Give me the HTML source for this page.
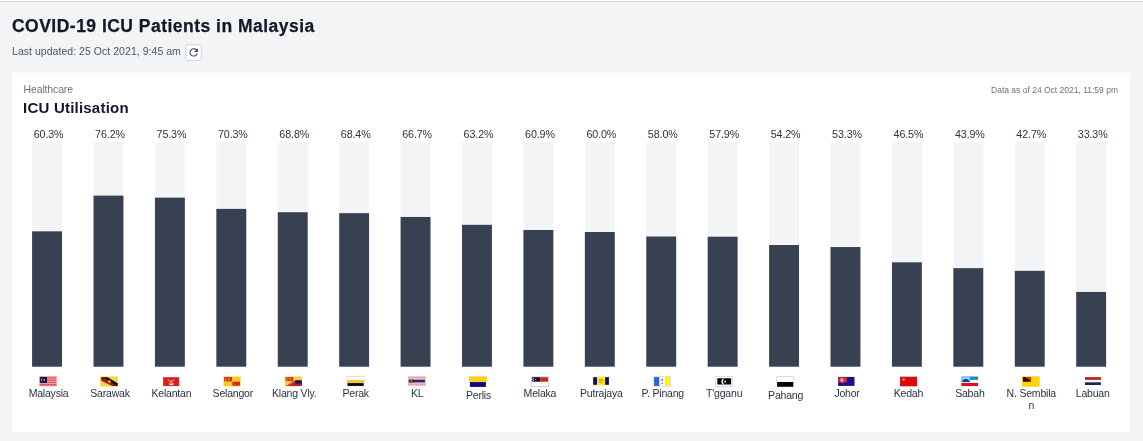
<!DOCTYPE html>
<html><head><meta charset="utf-8"><title>COVID-19 ICU Patients in Malaysia</title>
<style>
html,body{margin:0;padding:0}
body{width:1143px;height:441px;overflow:hidden;background:#f3f4f6;position:relative;font-family:"Liberation Sans",sans-serif;color:#1f2937}
.bg{position:absolute;left:0;top:0;display:block}
h1{position:absolute;left:12px;top:15px;margin:0;font-size:17.5px;line-height:22px;font-weight:700;color:#111827;white-space:nowrap;letter-spacing:0.48px;-webkit-text-stroke:0.25px #111827}
.upd{position:absolute;left:12px;top:44px;font-size:10.5px;line-height:14px;color:#4b5563;white-space:nowrap;letter-spacing:0.04px}
.cat{position:absolute;left:23.6px;top:82px;font-size:10.5px;line-height:14px;color:#6b7280;white-space:nowrap;letter-spacing:-0.15px}
.ttl{position:absolute;left:23px;top:99px;font-size:15px;line-height:18px;font-weight:700;color:#111827;white-space:nowrap;letter-spacing:0.22px}
.asof{position:absolute;right:25px;top:84px;font-size:8.5px;line-height:12px;color:#6b7280;white-space:nowrap}
.pct{position:absolute;top:127px;width:60px;text-align:center;font-size:10.7px;line-height:14px;color:#2b3340;letter-spacing:-0.1px}
.name{position:absolute;width:50.4px;text-align:center;font-size:10.5px;line-height:12px;color:#2b3340;word-break:break-all;letter-spacing:-0.2px}
</style></head><body>
<svg class="bg" width="1143" height="441" viewBox="0 0 1143 441">
<rect x="0" y="0" width="1143" height="1" fill="#fff"/><rect x="0" y="1" width="1143" height="1" fill="#d4d4d4"/>
<rect x="11.9" y="72.6" width="1118.2" height="359.4" fill="#fff"/>
<rect x="185.9" y="44.9" width="15.4" height="15.4" rx="1.8" fill="#fff" stroke="#d1d5db" stroke-width="1"/>
<g transform="translate(187.4 46.1) scale(0.525)"><path d="M17.65 6.35C16.2 4.9 14.21 4 12 4c-4.42 0-7.99 3.58-7.99 8s3.57 8 7.99 8c3.73 0 6.84-2.55 7.73-6h-2.08c-.82 2.33-3.04 4-5.65 4-3.31 0-6-2.69-6-6s2.69-6 6-6c1.66 0 3.14.69 4.22 1.78L13 11h7V4l-2.35 2.35z" fill="#374151"/></g>
<rect x="32.10" y="142.2" width="29.9" height="224.50" fill="#f3f4f6"/><rect x="32.10" y="231.33" width="29.9" height="135.37" fill="#374151"/>
<g transform="translate(39.5 376.6)"><rect width="17" height="9.7" fill="#f4a0a4"/>
<g fill="#e0555c"><rect y="0" width="17" height="0.9"/><rect y="1.8" width="17" height="0.9"/><rect y="3.6" width="17" height="0.9"/><rect y="5.4" width="17" height="0.9"/><rect y="7.3" width="17" height="1.6"/></g>
<rect x="0.4" y="0.5" width="7.1" height="5.7" fill="#0c0c3e"/>
<path d="M3.6 1.7a1.7 1.7 0 1 0 0 3.2a1.45 1.45 0 1 1 0-3.2z" fill="#e8e4d0"/><circle cx="4.7" cy="3.3" r="0.8" fill="#f4f0e0"/></g>
<rect x="93.52" y="142.2" width="29.9" height="224.50" fill="#f3f4f6"/><rect x="93.52" y="195.63" width="29.9" height="171.07" fill="#374151"/>
<g transform="translate(100.4 376.4)"><rect width="17.3" height="10.1" fill="#f7d838"/>
<path d="M0.8 0.8H7.2L17.3 6.8V9.6H12.4L0.8 2.6z" fill="#111"/>
<path d="M0.8 2.4L4.6 2.2L16.2 9.4H11.4L0.8 4.4z" fill="#b0141e"/>
<circle cx="9" cy="5.3" r="1.35" fill="#f7b23a"/></g>
<rect x="154.94" y="142.2" width="29.9" height="224.50" fill="#f3f4f6"/><rect x="154.94" y="197.65" width="29.9" height="169.05" fill="#374151"/>
<g transform="translate(163.1 377.2)"><rect width="16" height="8.8" fill="#d9201c"/>
<path d="M5.1 2.2L7.7 5.4M11.1 2.2L8.7 5.4M8.2 2.6V5.4" stroke="#f4a49c" stroke-width="1" fill="none"/>
<path d="M6.3 4.9A2 2 0 0 0 10.1 4.9" stroke="#fde4e0" stroke-width="1.5" fill="none" transform="translate(0 1.1)"/></g>
<rect x="216.35" y="142.2" width="29.9" height="224.50" fill="#f3f4f6"/><rect x="216.35" y="208.88" width="29.9" height="157.82" fill="#374151"/>
<g transform="translate(223.5 376.5)"><rect width="17" height="9.8" fill="#f9c823"/>
<rect x="0.6" y="0.6" width="8" height="4.3" fill="#c23a14"/><rect x="8.9" y="5.2" width="7.6" height="4" fill="#d8281a"/>
<path d="M3.6 1.4a1.5 1.5 0 1 0 0 2.8a1.2 1.2 0 1 1 0-2.8z" fill="#f4a088"/><circle cx="5.3" cy="2.8" r="1" fill="#f47a6a"/></g>
<rect x="277.77" y="142.2" width="29.9" height="224.50" fill="#f3f4f6"/><rect x="277.77" y="212.24" width="29.9" height="154.46" fill="#374151"/>
<g transform="translate(284.8 376.5)"><rect width="17.2" height="9.8" fill="#f6d23a"/>
<path d="M1 9.6L9 4.6H17.2V9.6z" fill="#c8202c"/>
<path d="M1 9.6L9.4 4.4L9.4 6L3.6 9.6z" fill="#e0541c"/>
<rect x="0.7" y="0.7" width="7.8" height="3.9" fill="#c83c14"/>
<rect x="10.4" y="3.7" width="6.4" height="3.4" fill="#1c1058"/>
<rect x="10" y="7" width="7" height="1" fill="#8c1848" opacity="0.6"/>
<path d="M3.5 1.4a1.4 1.4 0 1 0 0 2.6a1.1 1.1 0 1 1 0-2.6z" fill="#f4a088"/><circle cx="5.2" cy="2.7" r="0.9" fill="#f47a6a"/></g>
<rect x="339.19" y="142.2" width="29.9" height="224.50" fill="#f3f4f6"/><rect x="339.19" y="213.14" width="29.9" height="153.56" fill="#374151"/>
<g transform="translate(346.7 376.3)"><rect width="17.8" height="10.1" fill="#d6d6dc"/>
<rect x="0.7" y="0.7" width="16.4" height="3" fill="#fff"/><rect x="0.4" y="3.6" width="17" height="3.2" fill="#f2c93a"/><rect x="0.9" y="6.8" width="16" height="2.8" fill="#0c0804"/></g>
<rect x="400.61" y="142.2" width="29.9" height="224.50" fill="#f3f4f6"/><rect x="400.61" y="216.96" width="29.9" height="149.74" fill="#374151"/>
<g transform="translate(407.9 376.3)"><rect width="17.8" height="9.5" fill="#efb6bc"/>
<rect x="0" y="0.6" width="17.8" height="0.8" fill="#e8a0a8"/><rect x="0" y="7.8" width="17.8" height="0.8" fill="#e8a0a8"/>
<rect x="1" y="3.5" width="16" height="2.5" fill="#1b2b73"/><rect x="1" y="3.5" width="5" height="2.5" fill="#14183c"/><rect x="2.6" y="3.9" width="2" height="1.6" fill="#8c84a8"/></g>
<rect x="462.02" y="142.2" width="29.9" height="224.50" fill="#f3f4f6"/><rect x="462.02" y="224.82" width="29.9" height="141.88" fill="#374151"/>
<g transform="translate(469.1 376.3)"><rect width="17.6" height="5.8" fill="#fbd01c"/><rect x="0.8" y="5.8" width="16" height="4.8" fill="#0b0b7a"/></g>
<rect x="523.44" y="142.2" width="29.9" height="224.50" fill="#f3f4f6"/><rect x="523.44" y="229.98" width="29.9" height="136.72" fill="#374151"/>
<g transform="translate(531.3 376.5)"><rect width="17.4" height="10.2" fill="#c4c4c8"/><rect x="0.7" y="0.7" width="16" height="8.8" fill="#fff"/>
<rect x="0.7" y="0.7" width="8.2" height="4.5" fill="#140c3c"/><rect x="8.9" y="0.7" width="7.8" height="4.5" fill="#c42c1c"/>
<path d="M3.2 1.7a1.5 1.5 0 1 0 0 2.6a1.1 1.1 0 1 1 0-2.6z" fill="#e8e4f0"/><circle cx="4.4" cy="3" r="0.6" fill="#c8c4dc"/></g>
<rect x="584.86" y="142.2" width="29.9" height="224.50" fill="#f3f4f6"/><rect x="584.86" y="232.00" width="29.9" height="134.70" fill="#374151"/>
<g transform="translate(592.7 376.7)"><rect width="16.6" height="8.6" fill="#fbe83a"/>
<rect x="0.5" y="0.5" width="3.8" height="7.6" fill="#0c0c74"/><rect x="12.4" y="0.5" width="3.8" height="7.6" fill="#0c0c74"/>
<circle cx="8.3" cy="4.4" r="2.6" fill="#e8c41c"/><path d="M6.4 3.4L7.4 2.6L8.3 3.6L9.2 2.6L10.2 3.4" stroke="#b89410" stroke-width="0.7" fill="none"/></g>
<rect x="646.28" y="142.2" width="29.9" height="224.50" fill="#f3f4f6"/><rect x="646.28" y="236.49" width="29.9" height="130.21" fill="#374151"/>
<g transform="translate(653.5 376.3)"><rect width="17.2" height="10.2" fill="#c8ccd0"/><rect x="0.6" y="0.6" width="16" height="9" fill="#fff"/>
<rect x="0.6" y="0.8" width="5.2" height="8.8" fill="#2e63c4"/><rect x="11.3" y="0.6" width="5.4" height="9" fill="#fdf21a"/>
<rect x="7.8" y="2.6" width="1.6" height="1.6" fill="#5c6c5c"/><rect x="8.3" y="4.2" width="0.7" height="2.6" fill="#9c9c94"/><rect x="7.6" y="6.8" width="2.2" height="0.8" fill="#7c8c84"/></g>
<rect x="707.69" y="142.2" width="29.9" height="224.50" fill="#f3f4f6"/><rect x="707.69" y="236.71" width="29.9" height="129.99" fill="#374151"/>
<g transform="translate(715.3 376.3)"><rect width="17.4" height="10.4" fill="#cfcfd3"/><rect x="0.7" y="0.7" width="16" height="9" fill="#fff"/>
<rect x="2" y="2" width="13.8" height="6.2" rx="0.4" fill="#050505"/>
<path d="M9 2.3A2.9 2.9 0 0 0 9 8.1A3.7 3.7 0 0 1 9 2.3z" fill="#f4f4f4"/><circle cx="9.9" cy="5.2" r="1" fill="#ececec"/></g>
<rect x="769.11" y="142.2" width="29.9" height="224.50" fill="#f3f4f6"/><rect x="769.11" y="245.02" width="29.9" height="121.68" fill="#374151"/>
<g transform="translate(776.3 376.3)"><rect width="17.6" height="6" fill="#d0d0d4"/><rect x="0.7" y="0.7" width="16.2" height="5.2" fill="#fff"/><rect x="0.8" y="5.7" width="16.2" height="4.8" fill="#060606"/></g>
<rect x="830.53" y="142.2" width="29.9" height="224.50" fill="#f3f4f6"/><rect x="830.53" y="247.04" width="29.9" height="119.66" fill="#374151"/>
<g transform="translate(838.1 376.9)"><rect width="16.4" height="9" fill="#14128c"/>
<rect x="0.3" y="0.3" width="8.4" height="5.6" fill="#d82838"/><rect x="0.3" y="4.6" width="8.4" height="1.6" fill="#7a1c68" opacity="0.7"/>
<path d="M5.3 1.2a2.2 2.2 0 1 0 0 4a2.6 2.6 0 0 1 0-4z" fill="#f8b0b4"/><circle cx="5.7" cy="3.4" r="0.8" fill="#f88c94"/></g>
<rect x="891.95" y="142.2" width="29.9" height="224.50" fill="#f3f4f6"/><rect x="891.95" y="262.31" width="29.9" height="104.39" fill="#374151"/>
<g transform="translate(900.5 377.1)"><rect width="16.2" height="8.8" fill="#e00808"/><rect width="16.2" height="8.8" fill="none" stroke="#b80808" stroke-width="0.8"/>
<circle cx="3.1" cy="2.5" r="1.3" fill="#f87858"/></g>
<rect x="953.36" y="142.2" width="29.9" height="224.50" fill="#f3f4f6"/><rect x="953.36" y="268.14" width="29.9" height="98.56" fill="#374151"/>
<g transform="translate(961.3 376.5)"><rect width="16.8" height="9.6" fill="#fff"/>
<rect x="0" y="0" width="16.8" height="3.4" fill="#1a8cc4"/><rect x="0" y="6.4" width="16.8" height="3.2" fill="#d8141c"/>
<rect x="0" y="0" width="8.6" height="5.8" fill="#86d4f4"/>
<path d="M0.8 4.6C2 3 3.6 2.4 4.6 2.6C5.8 2.4 7 3.4 8.4 4.6V5.6H0.8z" fill="#123c8c"/></g>
<rect x="1014.78" y="142.2" width="29.9" height="224.50" fill="#f3f4f6"/><rect x="1014.78" y="270.84" width="29.9" height="95.86" fill="#374151"/>
<g transform="translate(1022.1 376.3)"><rect width="17.6" height="10.4" fill="#fbd20c"/>
<rect x="0.8" y="0.8" width="8" height="4.6" fill="#180604"/><path d="M2.4 0.8H8.8V4.6z" fill="#c83a14"/></g>
<rect x="1076.20" y="142.2" width="29.9" height="224.50" fill="#f3f4f6"/><rect x="1076.20" y="291.94" width="29.9" height="74.76" fill="#374151"/>
<g transform="translate(1084.7 376.9)"><rect width="16.4" height="8.3" fill="#fff"/><rect x="0.2" y="0.2" width="16" height="2.8" fill="#c4241c"/><rect x="0.2" y="5.4" width="16" height="2.7" fill="#0c2c5c"/>
<circle cx="8" cy="4.2" r="1.3" fill="#f8e8b0"/></g>
</svg>
<h1>COVID-19 ICU Patients in Malaysia</h1>
<div class="upd">Last updated: 25 Oct 2021, 9:45 am</div>
<div class="cat">Healthcare</div>
<div class="ttl">ICU Utilisation</div>
<div class="asof">Data as of 24 Oct 2021, 11:59 pm</div>
<div class="pct" style="left:18.60px">60.3%</div><div class="name" style="left:23.40px;top:387px">Malaysia</div>
<div class="pct" style="left:80.02px">76.2%</div><div class="name" style="left:84.82px;top:387px">Sarawak</div>
<div class="pct" style="left:141.44px">75.3%</div><div class="name" style="left:146.24px;top:387px">Kelantan</div>
<div class="pct" style="left:202.85px">70.3%</div><div class="name" style="left:207.65px;top:387px">Selangor</div>
<div class="pct" style="left:264.27px">68.8%</div><div class="name" style="left:269.07px;top:387px">Klang Vly.</div>
<div class="pct" style="left:325.69px">68.4%</div><div class="name" style="left:330.49px;top:387px">Perak</div>
<div class="pct" style="left:387.11px">66.7%</div><div class="name" style="left:391.91px;top:387px">KL</div>
<div class="pct" style="left:448.52px">63.2%</div><div class="name" style="left:453.32px;top:389px">Perlis</div>
<div class="pct" style="left:509.94px">60.9%</div><div class="name" style="left:514.74px;top:387px">Melaka</div>
<div class="pct" style="left:571.36px">60.0%</div><div class="name" style="left:576.16px;top:387px">Putrajaya</div>
<div class="pct" style="left:632.78px">58.0%</div><div class="name" style="left:637.58px;top:387px">P. Pinang</div>
<div class="pct" style="left:694.19px">57.9%</div><div class="name" style="left:698.99px;top:387px">T'gganu</div>
<div class="pct" style="left:755.61px">54.2%</div><div class="name" style="left:760.41px;top:389px">Pahang</div>
<div class="pct" style="left:817.03px">53.3%</div><div class="name" style="left:821.83px;top:387px">Johor</div>
<div class="pct" style="left:878.45px">46.5%</div><div class="name" style="left:883.25px;top:387px">Kedah</div>
<div class="pct" style="left:939.86px">43.9%</div><div class="name" style="left:944.66px;top:387px">Sabah</div>
<div class="pct" style="left:1001.28px">42.7%</div><div class="name" style="left:1006.08px;top:387px">N. Sembilan</div>
<div class="pct" style="left:1062.70px">33.3%</div><div class="name" style="left:1067.50px;top:387px">Labuan</div>
</body></html>
